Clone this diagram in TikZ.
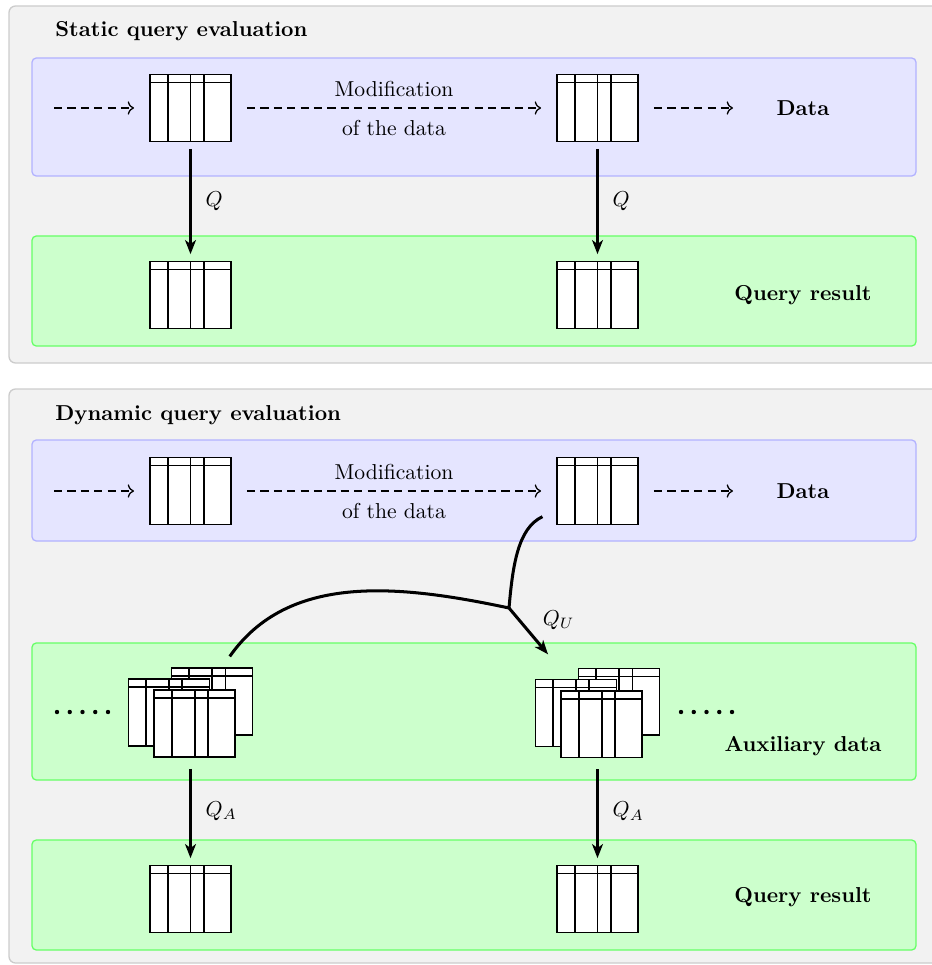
\documentclass[tikz,border=0pt]{standalone}
\usetikzlibrary{arrows.meta}

\begin{document}
\begin{tikzpicture}[
        x=0.463pt, y=0.463pt,
        panel/.style={draw=gray!40, fill=gray!10, semithick, rounded corners=3pt},
        datalayer/.style={draw=blue!30, fill=blue!10, semithick, rounded corners=2pt},
        resultlayer/.style={draw=green!60, fill=green!20, semithick, rounded corners=2pt},
        relation/.style={draw, thick, fill=white, inner sep=0pt, minimum width=37.5pt, minimum height=31pt,
            path picture={
                \draw[thick] ([yshift=-3.7pt]path picture bounding box.north west) -- ([yshift=-3.7pt]path picture bounding box.north east);
                \foreach \x in {8.2pt,18.7pt,24.9pt}
                    \draw[thick] ([xshift=\x]path picture bounding box.north west) -- ([xshift=\x]path picture bounding box.south west);
            }},
        stack/.style={inner sep=0pt, outer sep=0pt, minimum width=58.3pt, minimum height=42.1pt},
        heading/.style={font=\bfseries, anchor=base west, inner sep=0pt},
        layername/.style={font=\bfseries},
        change/.style={semithick, dash pattern=on 3.8pt off 2.4pt, ->, shorten <=7pt, shorten >=7pt},
        query/.style={-{Stealth[length=6.5pt, width=5pt, inset=1.8pt]}, line width=1.4pt, shorten <=3pt, shorten >=3pt},
        qlabel/.style={right=3pt}
    ]

    \useasboundingbox (0,0) rectangle (931,-965);

    % Panels and layers
    \draw[panel] (9,-6) rectangle (945,-363);
    \draw[datalayer] (32,-58) rectangle (916,-176);
    \draw[resultlayer] (32,-236) rectangle (916,-346);

    \draw[panel] (9,-389) rectangle (945,-963);
    \draw[datalayer] (32,-440) rectangle (916,-541);
    \draw[resultlayer] (32,-643) rectangle (916,-780);
    \draw[resultlayer] (32,-840) rectangle (916,-950);

    % Nodes - Static evaluation
    \node[heading] (stitle) at (55,-36.5) {Static query evaluation};
    \coordinate (sin) at (54,-108);
    \coordinate (sout) at (733,-108);
    \node[relation] (d1) at (190.5,-108) {};
    \node[relation] (d2) at (597.5,-108) {};
    \node[relation] (r1) at (190.5,-295) {};
    \node[relation] (r2) at (597.5,-295) {};
    \node[layername] (sdata) at (803,-108) {Data};
    \node[layername] (sres) at (803,-295) {Query result};

    % Nodes - Dynamic evaluation
    \node[heading] (dtitle) at (55,-420) {Dynamic query evaluation};
    \coordinate (din) at (54,-491);
    \coordinate (dout) at (733,-491);
    \node[relation] (d3) at (190.5,-491) {};
    \node[relation] (d4) at (597.5,-491) {};
    \node[layername] (ddata) at (803,-491) {Data};

    % auxiliary structures, three tables each
    \node[stack] (a1) at (190.5,-712.5) {};
    \node[relation, anchor=north east] (a1back) at (a1.north east) {};
    \node[relation, anchor=west] (a1mid) at (a1.west) {};
    \node[relation, anchor=south] (a1front) at ([xshift=2pt]a1.south) {};
    \node[stack] (a2) at (597.5,-713) {};
    \node[relation, anchor=north east] (a2back) at (a2.north east) {};
    \node[relation, anchor=west] (a2mid) at (a2.west) {};
    \node[relation, anchor=south] (a2front) at ([xshift=2pt]a2.south) {};
    \foreach \i in {0,...,4} {
        \fill (57+12.75*\i,-712) circle (2.2);
        \fill (681+12.75*\i,-712) circle (2.2);
    }
    \node[layername] (aux) at (803,-746) {Auxiliary data};

    \node[relation] (r3) at (190.5,-899) {};
    \node[relation] (r4) at (597.5,-899) {};
    \node[layername] (dres) at (803,-897) {Query result};

    \coordinate (jn) at (509,-608);

    % Arrows - static
    \draw[change, shorten <=0pt] (sin) -- (d1);
    \draw[change] (d1) -- node[above=1.5pt] {Modification} node[below=2pt] {of the data} (d2);
    \draw[change, shorten >=0pt] (d2) -- (sout);
    \draw[query] (d1) -- node[qlabel] {$Q$} (r1);
    \draw[query] (d2) -- node[qlabel] {$Q$} (r2);

    % Arrows - dynamic
    \draw[change, shorten <=0pt] (din) -- (d3);
    \draw[change] (d3) -- node[above=1.5pt] {Modification} node[below=2pt] {of the data} (d4);
    \draw[change, shorten >=0pt] (d4) -- (dout);
    \draw[line width=1.4pt, shorten <=6pt] (a1) to[out=55, in=168] (jn);
    \draw[line width=1.4pt, shorten <=7pt] (d4) to[out=205, in=85] (jn);
    \draw[query, shorten <=0pt, shorten >=8pt] (jn) -- node[pos=0.2, right=7pt] {$Q_U$} (a2);
    \draw[query, shorten <=5pt] (a1) -- node[qlabel] {$Q_A$} (r3);
    \draw[query, shorten <=5pt] (a2) -- node[qlabel] {$Q_A$} (r4);

\end{tikzpicture}
\end{document}
